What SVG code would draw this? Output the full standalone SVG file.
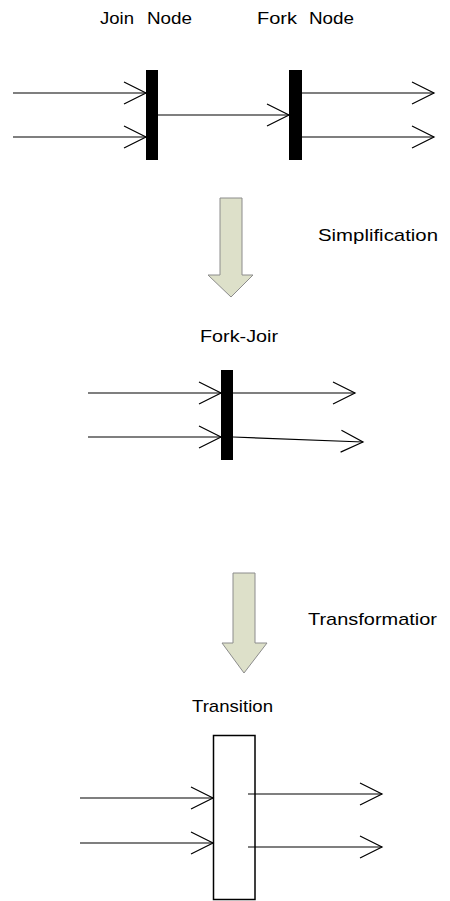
<svg xmlns="http://www.w3.org/2000/svg" width="450" height="901" viewBox="0 0 450 901">
<style>
text{font-family:"Liberation Sans",Arial,sans-serif;font-size:17px;fill:#000}
.bar{fill:#000}
.c{stroke:#000;stroke-width:1.2;fill:none}
.blk{fill:#dde0c9;stroke:#8c8c8c;stroke-width:1}
</style>
<defs>
<marker id="ah" markerUnits="userSpaceOnUse" markerWidth="24" markerHeight="24" refX="22" refY="11" orient="auto" overflow="visible">
<path d="M0,0 L22,11 L0,22" fill="none" stroke="#000" stroke-width="1.2"/>
</marker>
</defs>
<rect width="450" height="901" fill="#fff"/>
<g id="labels">
<text id="join-label" x="100" y="24"><tspan x="100" textLength="34" lengthAdjust="spacingAndGlyphs">Join</tspan><tspan x="147" textLength="45" lengthAdjust="spacingAndGlyphs">Node</tspan></text>
<text id="fork-label" x="257" y="24"><tspan x="257" textLength="40" lengthAdjust="spacingAndGlyphs">Fork</tspan><tspan x="309" textLength="45" lengthAdjust="spacingAndGlyphs">Node</tspan></text>
<text id="simplification" x="318" y="241" textLength="120" lengthAdjust="spacingAndGlyphs">Simplification</text>
<text id="forkjoin-label" x="200" y="342" textLength="78" lengthAdjust="spacingAndGlyphs">Fork-Joir</text>
<text id="transformation" x="308" y="625" textLength="129" lengthAdjust="spacingAndGlyphs">Transformatior</text>
<text id="transition-label" x="192" y="712" textLength="81" lengthAdjust="spacingAndGlyphs">Transition</text>
</g>
<g id="join-node"><rect class="bar" x="146" y="70" width="12" height="90"/></g>
<g id="fork-node"><rect class="bar" x="289" y="70" width="13" height="90"/></g>
<g id="fork-join-node"><rect class="bar" x="221" y="370" width="12" height="90"/></g>
<g id="transition-node"><rect x="213.5" y="735.5" width="41.5" height="164" fill="#fff" stroke="#000" stroke-width="1.5"/></g>
<g id="simplification-arrow"><path class="blk" d="M220,198 H242 V275 H253 L231,297 L208,275 H220 Z"/></g>
<g id="transformation-arrow"><path class="blk" d="M233,573 H255 V643 H267 L244,673 L222,643 H233 Z"/></g>
<g id="connectors">
<line class="c" x1="13" y1="93" x2="146" y2="93" marker-end="url(#ah)"/>
<line class="c" x1="13" y1="137" x2="146" y2="137" marker-end="url(#ah)"/>
<line class="c" x1="158" y1="115" x2="289" y2="115" marker-end="url(#ah)"/>
<line class="c" x1="302" y1="93" x2="434" y2="93" marker-end="url(#ah)"/>
<line class="c" x1="302" y1="137" x2="434" y2="137" marker-end="url(#ah)"/>
<line class="c" x1="88" y1="393" x2="221" y2="393" marker-end="url(#ah)"/>
<line class="c" x1="88" y1="437" x2="221" y2="437" marker-end="url(#ah)"/>
<line class="c" x1="233" y1="393" x2="355" y2="393" marker-end="url(#ah)"/>
<line class="c" x1="233" y1="437" x2="363" y2="442" marker-end="url(#ah)"/>
<line class="c" x1="80" y1="798" x2="213" y2="798" marker-end="url(#ah)"/>
<line class="c" x1="80" y1="843" x2="213" y2="843" marker-end="url(#ah)"/>
<line class="c" x1="248" y1="794" x2="382" y2="794" marker-end="url(#ah)"/>
<line class="c" x1="248" y1="847" x2="382" y2="847" marker-end="url(#ah)"/>
</g>
</svg>
